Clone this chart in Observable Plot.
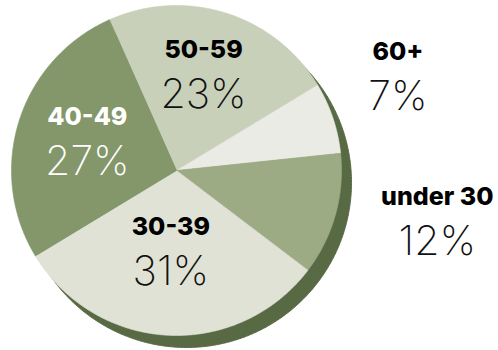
<!DOCTYPE html>
<html>
<head>
<meta charset="utf-8">
<script src="https://cdn.jsdelivr.net/npm/d3@7"></script>
<script src="https://cdn.jsdelivr.net/npm/@observablehq/plot@0.6"></script>
<style>
  html, body { margin: 0; padding: 0; background: #fff; }
  #chart svg { display: block; }
</style>
</head>
<body>
<div id="chart"></div>
<script>
// ---- data ----
const categories = ["50-59", "60+", "under 30", "30-39", "40-49"];
const shares = [23, 7, 12, 31, 27];
const percentLabels = ["23%", "7%", "12%", "31%", "27%"];

// ---- styles / layout ----
const sliceColors = ["#c8d0b9", "#e9ebe4", "#9dab84", "#e0e2d5", "#83976a"];
const labelColors = ["#000", "#000", "#000", "#000", "#fff"];
const shadowColor = "#586a44";
const startDeg = -24;
const R = 165;
// label placement relative to slice mid-angle (degrees shift, radius factor)
const labelShift = [-1.8, -4.6, -4.6, 1, 1.2];
const labelRadius = [0.61, 1.46, 1.61, 0.49, 0.57];

const W = 498, H = 350, CX = 176, CY = 170;

const rows = categories.map((c, i) => ({category: c, share: shares[i], pct: percentLabels[i], i}));
const arcs = d3.pie().sort(null).value(d => d.share)
  .startAngle(startDeg * Math.PI / 180)
  .endAngle(startDeg * Math.PI / 180 + 2 * Math.PI)(rows);

const pts = [];
for (const a of arcs) {
  const c = a.data.category;
  pts.push({category: c, x: 0, y: 0});
  const n = Math.max(2, Math.ceil((a.endAngle - a.startAngle) / (Math.PI / 360)));
  for (let k = 0; k <= n; k++) {
    const t = a.startAngle + (a.endAngle - a.startAngle) * k / n;
    pts.push({category: c, x: R * Math.sin(t), y: -R * Math.cos(t)});
  }
  pts.push({category: c, x: 0, y: 0});
}

const labels = arcs.map(a => {
  const i = a.data.i;
  const t = (a.startAngle + a.endAngle) / 2 + labelShift[i] * Math.PI / 180;
  const r = R * labelRadius[i];
  return {category: a.data.category, pct: a.data.pct, color: labelColors[i], x: r * Math.sin(t), y: -r * Math.cos(t)};
});

const chart = Plot.plot({
  width: W,
  height: H,
  margin: 0,
  x: {domain: [-CX, W - CX], axis: null},
  y: {domain: [-CY, H - CY], reverse: true, axis: null},
  color: {domain: categories, range: sliceColors},
  style: {background: "#fff"},
  marks: [
    // shadow
    Plot.line(pts, {x: "x", y: "y", z: "category", fill: shadowColor, stroke: shadowColor, strokeWidth: 1, dx: 10, dy: 12}),
    // slices
    Plot.line(pts, {x: "x", y: "y", z: "category", fill: "category", stroke: "category", strokeWidth: 0.6}),
    // category labels
    Plot.text(labels, {x: "x", y: "y", text: "category", fill: "color", dy: -16, lineAnchor: "bottom",
      fontFamily: "Inter", fontWeight: 800, fontSize: 25, textAnchor: "middle"}),
    // percent labels
    Plot.text(labels, {x: "x", y: "y", text: "pct", fill: d => d.color === "#fff" ? "#fff" : "#111", dy: 34, lineAnchor: "bottom",
      fontFamily: "Inter", fontWeight: 200, fontSize: 41, textAnchor: "middle"})
  ]
});
document.getElementById("chart").appendChild(chart);
</script>
</body>
</html>
